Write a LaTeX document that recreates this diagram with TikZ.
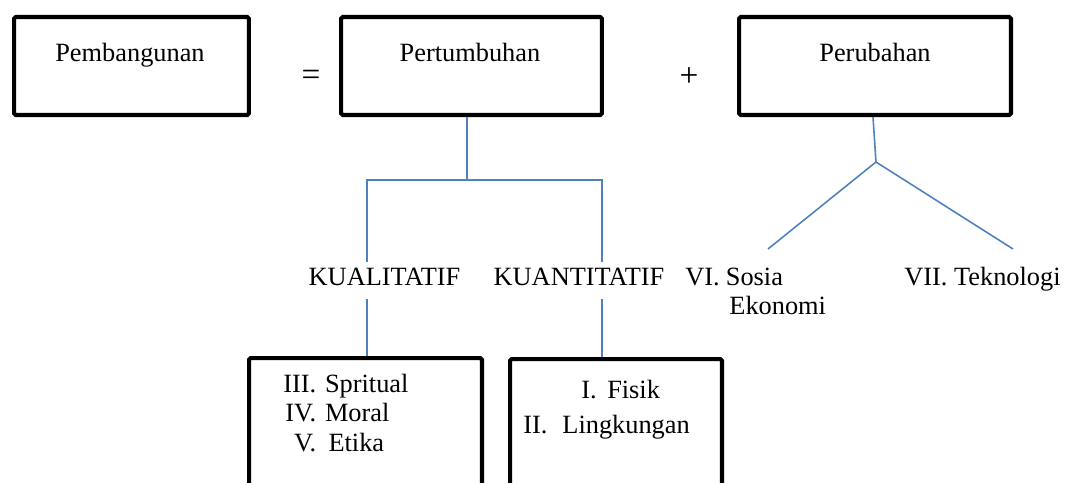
\documentclass[tikz,border=0pt]{standalone}
\usepackage{fontspec}
\setmainfont{Liberation Serif}
\usetikzlibrary{positioning}
\definecolor{linkblue}{RGB}{79,129,189}

\begin{document}
\begin{tikzpicture}[x=0.02cm, y=-0.02cm,
    box/.style={draw, line width=2.3pt, rounded corners=1pt, inner sep=0pt},
    link/.style={draw=linkblue, line width=0.9pt},
    lbl/.style={inner sep=0pt, font=\fontsize{15}{17}\selectfont},
    sign/.style={inner sep=0pt, font=\fontsize{19}{21}\selectfont},
    branch/.style={lbl, inner sep=3pt, text depth=4.5pt}]
    \clip (0,0) rectangle (1066,483);
    % top row
    \node[box, minimum width=4.7cm, minimum height=1.96cm] (pemb) at (131.5,66) {};
    \node[box, minimum width=5.22cm, minimum height=1.96cm] (pert) at (471.5,66) {};
    \node[box, minimum width=5.44cm, minimum height=1.96cm] (perub) at (875,66) {};
    \node[lbl, anchor=base] (pembtxt) at (130,62) {Pembangunan};
    \node[lbl, anchor=base] (perttxt) at (470,62) {Pertumbuhan};
    \node[lbl, anchor=base] (perubtxt) at (875,62) {Perubahan};
    \node[sign] (eq) at (311,78) {=};
    \node[sign] (plus) at (689,77) {+};
    % kualitatif / kuantitatif
    \node[branch, anchor=base] (kual) at (384.5,285) {KUALITATIF};
    \node[branch, anchor=base] (kuan) at (579,285) {KUANTITATIF};
    \coordinate (j1) at (467,180);
    \coordinate (ka) at (367,180);
    \coordinate (kb) at (602,180);
    \draw[link] (pert.south -| j1) -- (j1);
    \draw[link] (ka |- kual.north) -- (ka) -- (kb) -- (kb |- kuan.north);
    % bottom boxes
    \node[box, anchor=north, minimum width=4.66cm, minimum height=4cm] (qual) at (365.5,356) {};
    \node[box, anchor=north, minimum width=4.24cm, minimum height=4cm] (quan) at (616,357) {};
    \draw[link] (ka |- kual.south) -- (ka |- qual.north);
    \draw[link] (kb |- kuan.south) -- (kb |- quan.north);
    \node[lbl, anchor=base west] (qualtxt) at (283,392)
      {\begin{tabular}[t]{@{}r@{\hspace{5pt}}l@{}}III. & Spritual\\ IV. & Moral\\ V. & \hspace{2pt}Etika\end{tabular}};
    \node[lbl, anchor=base west] (fisik) at (581,398) {I.\hspace{6pt}Fisik};
    \node[lbl, anchor=base west] (lingk) at (523,433) {II.\hspace{8.5pt}Lingkungan};
    % perubahan branches
    \coordinate (pj) at (876,162);
    \coordinate (sl) at (768,249);
    \coordinate (tl) at (1013,249);
    \draw[link] (perub.south -| 873,0) -- (pj);
    \draw[link] (sl) -- (pj) -- (tl);
    \node[lbl, anchor=base west] (sosia) at (685,285)
      {\begin{tabular}[t]{@{}l@{\hspace{3.5pt}}l@{}}VI. & Sosia\\ & \hspace{2pt}Ekonomi\end{tabular}};
    \node[lbl, anchor=base west] (tekno) at (904,285) {VII. Teknologi};
\end{tikzpicture}
\end{document}
